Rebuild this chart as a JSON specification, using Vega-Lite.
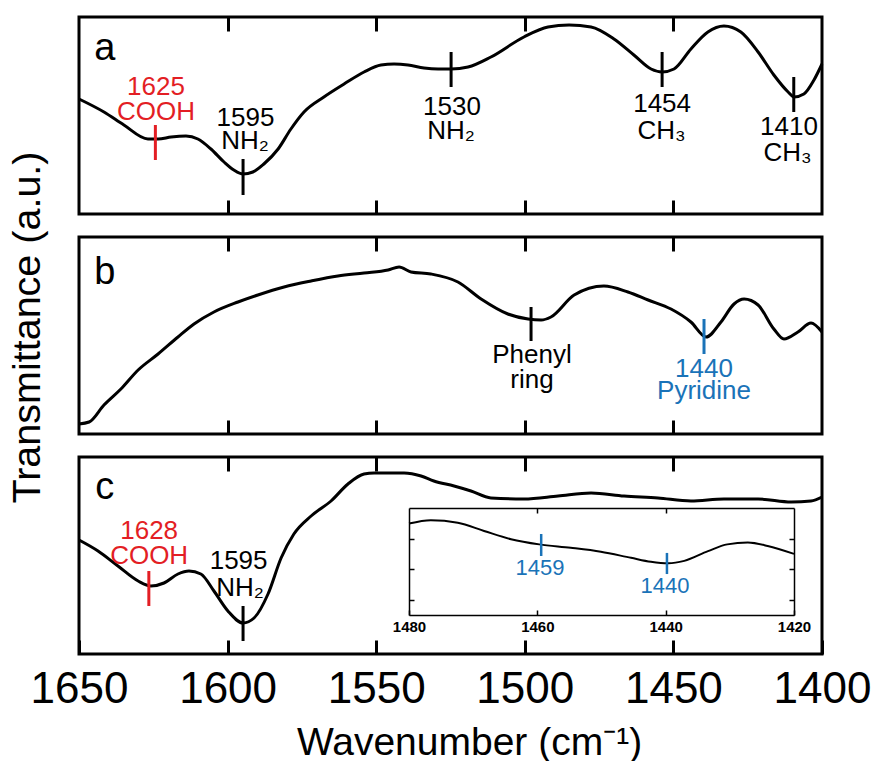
{
  "$schema": "https://vega.github.io/schema/vega-lite/v6.json",
  "padding": {"left": 5, "top": 14, "right": 5, "bottom": 0},
  "spacing": 23,
  "bounds": "flush",
  "config": {
    "font": "Liberation Sans",
    "view": {"stroke": "black", "strokeWidth": 3},
    "axis": {"grid": false, "minExtent": 0}
  },
  "datasets": {
    "specA": [
      {"wn": 1650, "v": 115}, {"wn": 1641.6, "v": 102}, {"wn": 1634.9, "v": 89}, {"wn": 1626.8, "v": 75},
      {"wn": 1623.4, "v": 75}, {"wn": 1619.0, "v": 77}, {"wn": 1614.0, "v": 78}, {"wn": 1610.0, "v": 75},
      {"wn": 1605.6, "v": 65}, {"wn": 1601.2, "v": 52}, {"wn": 1597.9, "v": 44}, {"wn": 1594.8, "v": 40},
      {"wn": 1591.5, "v": 42}, {"wn": 1587.8, "v": 50}, {"wn": 1583.0, "v": 65}, {"wn": 1578.7, "v": 85},
      {"wn": 1574.3, "v": 102}, {"wn": 1567.6, "v": 117}, {"wn": 1560.8, "v": 130}, {"wn": 1554.1, "v": 142},
      {"wn": 1548.4, "v": 149}, {"wn": 1544.0, "v": 150}, {"wn": 1539.3, "v": 149}, {"wn": 1533.9, "v": 146},
      {"wn": 1529.2, "v": 145}, {"wn": 1524.8, "v": 145}, {"wn": 1519.1, "v": 147}, {"wn": 1511.4, "v": 157},
      {"wn": 1500.3, "v": 177}, {"wn": 1492.2, "v": 187}, {"wn": 1485.1, "v": 189}, {"wn": 1477.7, "v": 187},
      {"wn": 1470.0, "v": 175}, {"wn": 1463.3, "v": 159}, {"wn": 1457.5, "v": 145}, {"wn": 1453.8, "v": 142},
      {"wn": 1449.8, "v": 145}, {"wn": 1444.1, "v": 165}, {"wn": 1438.4, "v": 182}, {"wn": 1433.0, "v": 188},
      {"wn": 1427.3, "v": 182}, {"wn": 1421.5, "v": 162}, {"wn": 1416.2, "v": 139}, {"wn": 1411.4, "v": 122},
      {"wn": 1409.4, "v": 117}, {"wn": 1406.1, "v": 120}, {"wn": 1402.7, "v": 134}, {"wn": 1400, "v": 150}
    ],
    "specB": [
      {"wn": 1650, "v": 10}, {"wn": 1646.6, "v": 12}, {"wn": 1641.6, "v": 29}, {"wn": 1635.9, "v": 45},
      {"wn": 1630.1, "v": 64}, {"wn": 1623.4, "v": 80}, {"wn": 1616.7, "v": 97}, {"wn": 1611.3, "v": 110},
      {"wn": 1604.6, "v": 122}, {"wn": 1596.5, "v": 132}, {"wn": 1589.8, "v": 139}, {"wn": 1581.0, "v": 147},
      {"wn": 1571.9, "v": 153}, {"wn": 1562.9, "v": 158}, {"wn": 1554.1, "v": 161}, {"wn": 1546.0, "v": 164},
      {"wn": 1542.3, "v": 167}, {"wn": 1538.3, "v": 162}, {"wn": 1531.6, "v": 160}, {"wn": 1522.5, "v": 152},
      {"wn": 1514.7, "v": 135}, {"wn": 1505.7, "v": 120}, {"wn": 1498.9, "v": 115}, {"wn": 1494.5, "v": 114},
      {"wn": 1491.2, "v": 117}, {"wn": 1483.4, "v": 139}, {"wn": 1473.4, "v": 148}, {"wn": 1465.3, "v": 142},
      {"wn": 1458.5, "v": 134}, {"wn": 1450.8, "v": 125}, {"wn": 1444.1, "v": 112}, {"wn": 1439.0, "v": 97},
      {"wn": 1434.0, "v": 112}, {"wn": 1429.6, "v": 130}, {"wn": 1426.2, "v": 135}, {"wn": 1421.5, "v": 129},
      {"wn": 1416.2, "v": 105}, {"wn": 1412.8, "v": 95}, {"wn": 1408.1, "v": 102}, {"wn": 1403.7, "v": 111},
      {"wn": 1400, "v": 102}
    ],
    "specC": [
      {"wn": 1650, "v": 114}, {"wn": 1643.6, "v": 103}, {"wn": 1636.9, "v": 88}, {"wn": 1630.1, "v": 73},
      {"wn": 1625.8, "v": 68}, {"wn": 1621.4, "v": 71}, {"wn": 1616.7, "v": 80}, {"wn": 1613.0, "v": 83},
      {"wn": 1609.0, "v": 80}, {"wn": 1604.6, "v": 63}, {"wn": 1599.9, "v": 43}, {"wn": 1594.8, "v": 31},
      {"wn": 1591.1, "v": 36}, {"wn": 1586.4, "v": 60}, {"wn": 1582.0, "v": 96}, {"wn": 1577.7, "v": 120},
      {"wn": 1571.9, "v": 138}, {"wn": 1565.2, "v": 153}, {"wn": 1559.5, "v": 170}, {"wn": 1554.1, "v": 180},
      {"wn": 1550.7, "v": 181}, {"wn": 1545.0, "v": 181}, {"wn": 1540.6, "v": 181}, {"wn": 1534.9, "v": 178},
      {"wn": 1530.6, "v": 173}, {"wn": 1523.8, "v": 168}, {"wn": 1518.1, "v": 163}, {"wn": 1511.4, "v": 156},
      {"wn": 1500.3, "v": 155}, {"wn": 1488.8, "v": 158}, {"wn": 1477.7, "v": 161}, {"wn": 1466.6, "v": 158},
      {"wn": 1455.2, "v": 156}, {"wn": 1444.1, "v": 153}, {"wn": 1433.0, "v": 155}, {"wn": 1421.5, "v": 155},
      {"wn": 1410.4, "v": 152}, {"wn": 1403.7, "v": 153}, {"wn": 1400, "v": 157}
    ],
    "inset": [
      {"wn": 1480, "v": 2.99}, {"wn": 1476.6, "v": 3.10}, {"wn": 1472.4, "v": 3.02}, {"wn": 1468.3, "v": 2.75},
      {"wn": 1464.1, "v": 2.48}, {"wn": 1459.7, "v": 2.31}, {"wn": 1454.8, "v": 2.20}, {"wn": 1450.1, "v": 2.07},
      {"wn": 1445.4, "v": 1.87}, {"wn": 1442.3, "v": 1.74}, {"wn": 1439.6, "v": 1.69}, {"wn": 1437.1, "v": 1.77},
      {"wn": 1433.4, "v": 2.09}, {"wn": 1430.4, "v": 2.31}, {"wn": 1427.2, "v": 2.37}, {"wn": 1424.1, "v": 2.26},
      {"wn": 1420, "v": 2.0}
    ],
    "tickA": [
      {"wn": 1624.3, "v1": 89, "v2": 54, "kind": "acid"},
      {"wn": 1594.8, "v1": 55, "v2": 19, "kind": "group"},
      {"wn": 1524.8, "v1": 162, "v2": 127, "kind": "group"},
      {"wn": 1453.8, "v1": 162, "v2": 127, "kind": "group"},
      {"wn": 1409.5, "v1": 137, "v2": 102, "kind": "group"}
    ],
    "textA": [
      {"wn": 1624.1, "v": 119, "label": "1625", "kind": "acid"},
      {"wn": 1624.1, "v": 94, "label": "COOH", "kind": "acid"},
      {"wn": 1594.0, "v": 88, "label": "1595", "kind": "group"},
      {"wn": 1594.1, "v": 65, "label": "NH₂", "kind": "group"},
      {"wn": 1524.5, "v": 99, "label": "1530", "kind": "group"},
      {"wn": 1524.8, "v": 75, "label": "NH₂", "kind": "group"},
      {"wn": 1453.8, "v": 102, "label": "1454", "kind": "group"},
      {"wn": 1454.0, "v": 75, "label": "CH₃", "kind": "group"},
      {"wn": 1411.1, "v": 79, "label": "1410", "kind": "group"},
      {"wn": 1411.6, "v": 53, "label": "CH₃", "kind": "group"}
    ],
    "tickB": [
      {"wn": 1497.9, "v1": 127, "v2": 93, "kind": "group"},
      {"wn": 1439.7, "v1": 115, "v2": 80, "kind": "pyr"}
    ],
    "textB": [
      {"wn": 1497.6, "v": 71, "label": "Phenyl", "kind": "group"},
      {"wn": 1497.6, "v": 46, "label": "ring", "kind": "group"},
      {"wn": 1439.7, "v": 57, "label": "1440", "kind": "pyr"},
      {"wn": 1439.7, "v": 35, "label": "Pyridine", "kind": "pyr"}
    ],
    "tickC": [
      {"wn": 1626.5, "v1": 83, "v2": 48, "kind": "acid"},
      {"wn": 1594.8, "v1": 48, "v2": 13, "kind": "group"}
    ],
    "textC": [
      {"wn": 1626.4, "v": 115, "label": "1628", "kind": "acid"},
      {"wn": 1626.4, "v": 90, "label": "COOH", "kind": "acid"},
      {"wn": 1596.3, "v": 85, "label": "1595", "kind": "group"},
      {"wn": 1595.8, "v": 58, "label": "NH₂", "kind": "group"}
    ],
    "tickInset": [
      {"wn": 1459.4, "v1": 2.65, "v2": 1.93, "kind": "pyr"},
      {"wn": 1439.8, "v1": 2.03, "v2": 1.34, "kind": "pyr"}
    ],
    "textInset": [
      {"wn": 1459.6, "v": 1.31, "label": "1459", "kind": "pyr"},
      {"wn": 1440.1, "v": 0.72, "label": "1440", "kind": "pyr"}
    ]
  },
  "vconcat": [
    {
      "width": 743, "height": 197,
      "layer": [
        {
          "data": {"name": "specA"},
          "mark": {"type": "line", "color": "black", "strokeWidth": 3, "interpolate": "monotone"},
          "encoding": {
            "x": {"field": "wn", "type": "quantitative", "scale": {"domain": [1650, 1400], "nice": false},
                  "axis": {"orient": "bottom", "values": [1600, 1550, 1500, 1450], "tickSize": -14, "tickWidth": 3, "tickColor": "black", "labels": false, "domain": false, "title": null}},
            "y": {"field": "v", "type": "quantitative", "scale": {"domain": [0, 197], "nice": false}, "axis": null}
          }
        },
        {
          "data": {"name": "tickA"},
          "mark": {"type": "rule", "strokeWidth": 3},
          "encoding": {
            "x": {"field": "wn", "type": "quantitative", "scale": {"domain": [1650, 1400], "nice": false},
                  "axis": {"orient": "top", "values": [1600, 1550, 1500, 1450], "tickSize": -14, "tickWidth": 3, "tickColor": "black", "labels": false, "domain": false, "title": null}},
            "y": {"field": "v1", "type": "quantitative", "scale": {"domain": [0, 197], "nice": false}, "axis": null},
            "y2": {"field": "v2"},
            "color": {"field": "kind", "type": "nominal", "scale": {"domain": ["acid", "group", "pyr"], "range": ["#e31e24", "#000000", "#1a73b8"]}, "legend": null}
          }
        },
        {
          "data": {"name": "textA"},
          "mark": {"type": "text", "fontSize": 26, "align": "center", "baseline": "alphabetic"},
          "encoding": {
            "x": {"field": "wn", "type": "quantitative", "scale": {"domain": [1650, 1400], "nice": false}, "axis": null},
            "y": {"field": "v", "type": "quantitative", "scale": {"domain": [0, 197], "nice": false}, "axis": null},
            "text": {"field": "label"},
            "color": {"field": "kind", "type": "nominal", "scale": {"domain": ["acid", "group", "pyr"], "range": ["#e31e24", "#000000", "#1a73b8"]}, "legend": null}
          }
        },
        {
          "data": {"values": [{"wn": 1641.3, "v": 154, "label": "a"}]},
          "mark": {"type": "text", "fontSize": 38, "align": "center", "baseline": "alphabetic", "color": "black"},
          "encoding": {
            "x": {"field": "wn", "type": "quantitative", "scale": {"domain": [1650, 1400], "nice": false}, "axis": null},
            "y": {"field": "v", "type": "quantitative", "scale": {"domain": [0, 197], "nice": false}, "axis": null},
            "text": {"field": "label"}
          }
        }
      ],
      "resolve": {"axis": {"x": "independent", "y": "independent"}}
    },
    {
      "width": 743, "height": 197,
      "layer": [
        {
          "data": {"name": "specB"},
          "mark": {"type": "line", "color": "black", "strokeWidth": 3, "interpolate": "monotone"},
          "encoding": {
            "x": {"field": "wn", "type": "quantitative", "scale": {"domain": [1650, 1400], "nice": false},
                  "axis": {"orient": "bottom", "values": [1600, 1550, 1500, 1450], "tickSize": -14, "tickWidth": 3, "tickColor": "black", "labels": false, "domain": false, "title": null}},
            "y": {"field": "v", "type": "quantitative", "scale": {"domain": [0, 197], "nice": false},
                  "axis": {"orient": "left", "title": "Transmittance (a.u.)", "titleFontSize": 39.5, "titleFontWeight": "normal", "titleColor": "black", "titleY": 90, "titlePadding": 32, "labels": false, "ticks": false, "domain": false}}
          }
        },
        {
          "data": {"name": "tickB"},
          "mark": {"type": "rule", "strokeWidth": 3},
          "encoding": {
            "x": {"field": "wn", "type": "quantitative", "scale": {"domain": [1650, 1400], "nice": false},
                  "axis": {"orient": "top", "values": [1600, 1550, 1500, 1450], "tickSize": -14, "tickWidth": 3, "tickColor": "black", "labels": false, "domain": false, "title": null}},
            "y": {"field": "v1", "type": "quantitative", "scale": {"domain": [0, 197], "nice": false}, "axis": null},
            "y2": {"field": "v2"},
            "color": {"field": "kind", "type": "nominal", "scale": {"domain": ["acid", "group", "pyr"], "range": ["#e31e24", "#000000", "#1a73b8"]}, "legend": null}
          }
        },
        {
          "data": {"name": "textB"},
          "mark": {"type": "text", "fontSize": 26, "align": "center", "baseline": "alphabetic"},
          "encoding": {
            "x": {"field": "wn", "type": "quantitative", "scale": {"domain": [1650, 1400], "nice": false}, "axis": null},
            "y": {"field": "v", "type": "quantitative", "scale": {"domain": [0, 197], "nice": false}, "axis": null},
            "text": {"field": "label"},
            "color": {"field": "kind", "type": "nominal", "scale": {"domain": ["acid", "group", "pyr"], "range": ["#e31e24", "#000000", "#1a73b8"]}, "legend": null}
          }
        },
        {
          "data": {"values": [{"wn": 1641.3, "v": 150, "label": "b"}]},
          "mark": {"type": "text", "fontSize": 38, "align": "center", "baseline": "alphabetic", "color": "black"},
          "encoding": {
            "x": {"field": "wn", "type": "quantitative", "scale": {"domain": [1650, 1400], "nice": false}, "axis": null},
            "y": {"field": "v", "type": "quantitative", "scale": {"domain": [0, 197], "nice": false}, "axis": null},
            "text": {"field": "label"}
          }
        }
      ],
      "resolve": {"axis": {"x": "independent", "y": "independent"}}
    },
    {
      "width": 743, "height": 197,
      "layer": [
        {
          "layer": [
            {
              "data": {"name": "specC"},
              "mark": {"type": "line", "color": "black", "strokeWidth": 3, "interpolate": "monotone"},
              "encoding": {
                "x": {"field": "wn", "type": "quantitative", "scale": {"domain": [1650, 1400], "nice": false},
                      "axis": {"orient": "bottom", "values": [1650, 1600, 1550, 1500, 1450, 1400], "format": "d", "tickSize": -14, "tickWidth": 3, "tickColor": "black", "domain": false,
                               "labelFontSize": 44, "labelColor": "black", "labelPadding": 27, "labelFlush": false, "labelOverlap": false,
                               "title": "Wavenumber (cm⁻¹)", "titleFontSize": 39, "titleFontWeight": "normal", "titleColor": "black", "titlePadding": 12, "titleX": 390}},
                "y": {"field": "v", "type": "quantitative", "scale": {"domain": [0, 197], "nice": false}, "axis": null}
              }
            },
            {
              "data": {"name": "tickC"},
              "mark": {"type": "rule", "strokeWidth": 3},
              "encoding": {
                "x": {"field": "wn", "type": "quantitative", "scale": {"domain": [1650, 1400], "nice": false},
                      "axis": {"orient": "top", "values": [1600, 1550, 1500, 1450], "tickSize": -14, "tickWidth": 3, "tickColor": "black", "labels": false, "domain": false, "title": null}},
                "y": {"field": "v1", "type": "quantitative", "scale": {"domain": [0, 197], "nice": false}, "axis": null},
                "y2": {"field": "v2"},
                "color": {"field": "kind", "type": "nominal", "scale": {"domain": ["acid", "group", "pyr"], "range": ["#e31e24", "#000000", "#1a73b8"]}, "legend": null}
              }
            },
            {
              "data": {"name": "textC"},
              "mark": {"type": "text", "fontSize": 26, "align": "center", "baseline": "alphabetic"},
              "encoding": {
                "x": {"field": "wn", "type": "quantitative", "scale": {"domain": [1650, 1400], "nice": false}, "axis": null},
                "y": {"field": "v", "type": "quantitative", "scale": {"domain": [0, 197], "nice": false}, "axis": null},
                "text": {"field": "label"},
                "color": {"field": "kind", "type": "nominal", "scale": {"domain": ["acid", "group", "pyr"], "range": ["#e31e24", "#000000", "#1a73b8"]}, "legend": null}
              }
            },
            {
              "data": {"values": [{"wn": 1641.3, "v": 155, "label": "c"}]},
              "mark": {"type": "text", "fontSize": 38, "align": "center", "baseline": "alphabetic", "color": "black"},
              "encoding": {
                "x": {"field": "wn", "type": "quantitative", "scale": {"domain": [1650, 1400], "nice": false}, "axis": null},
                "y": {"field": "v", "type": "quantitative", "scale": {"domain": [0, 197], "nice": false}, "axis": null},
                "text": {"field": "label"}
              }
            }
          ],
          "resolve": {"axis": {"x": "independent", "y": "independent"}}
        },
        {
          "layer": [
            {
              "data": {"name": "inset"},
              "mark": {"type": "line", "color": "black", "strokeWidth": 2, "interpolate": "monotone"},
              "encoding": {
                "x": {"field": "wn", "type": "quantitative", "scale": {"domain": [1480, 1420], "range": [330, 715], "nice": false},
                      "axis": {"orient": "bottom", "offset": -39, "values": [1480, 1460, 1440, 1420], "format": "d", "tickSize": -5, "tickWidth": 1.5, "tickColor": "black",
                               "domain": true, "domainColor": "black", "domainWidth": 1.5, "labelFontSize": 15, "labelFontWeight": "bold", "labelColor": "black", "labelPadding": 9, "labelFlush": false, "labelOverlap": false, "title": null}},
                "y": {"field": "v", "type": "quantitative", "scale": {"domain": [0, 3.5], "range": [158, 51], "nice": false},
                      "axis": {"orient": "left", "offset": -330, "values": [0.5, 1.5, 2.5], "tickSize": -5, "tickWidth": 1.5, "tickColor": "black", "labels": false,
                               "domain": true, "domainColor": "black", "domainWidth": 1.5, "title": null}}
              }
            },
            {
              "data": {"name": "tickInset"},
              "mark": {"type": "rule", "strokeWidth": 2.5},
              "encoding": {
                "x": {"field": "wn", "type": "quantitative", "scale": {"domain": [1480, 1420], "range": [330, 715], "nice": false},
                      "axis": {"orient": "top", "offset": -51, "values": [1460, 1440], "tickSize": -5, "tickWidth": 1.5, "tickColor": "black", "labels": false,
                               "domain": true, "domainColor": "black", "domainWidth": 1.5, "title": null}},
                "y": {"field": "v1", "type": "quantitative", "scale": {"domain": [0, 3.5], "range": [158, 51], "nice": false},
                      "axis": {"orient": "right", "offset": -28, "values": [0.5, 1.5, 2.5], "tickSize": -5, "tickWidth": 1.5, "tickColor": "black", "labels": false,
                               "domain": true, "domainColor": "black", "domainWidth": 1.5, "title": null}},
                "y2": {"field": "v2"},
                "color": {"field": "kind", "type": "nominal", "scale": {"domain": ["acid", "group", "pyr"], "range": ["#e31e24", "#000000", "#1a73b8"]}, "legend": null}
              }
            },
            {
              "data": {"name": "textInset"},
              "mark": {"type": "text", "fontSize": 22, "align": "center", "baseline": "alphabetic"},
              "encoding": {
                "x": {"field": "wn", "type": "quantitative", "scale": {"domain": [1480, 1420], "range": [330, 715], "nice": false}, "axis": null},
                "y": {"field": "v", "type": "quantitative", "scale": {"domain": [0, 3.5], "range": [158, 51], "nice": false}, "axis": null},
                "text": {"field": "label"},
                "color": {"field": "kind", "type": "nominal", "scale": {"domain": ["acid", "group", "pyr"], "range": ["#e31e24", "#000000", "#1a73b8"]}, "legend": null}
              }
            }
          ],
          "resolve": {"axis": {"x": "independent", "y": "independent"}}
        }
      ],
      "resolve": {"scale": {"x": "independent", "y": "independent"}, "axis": {"x": "independent", "y": "independent"}}
    }
  ]
}
